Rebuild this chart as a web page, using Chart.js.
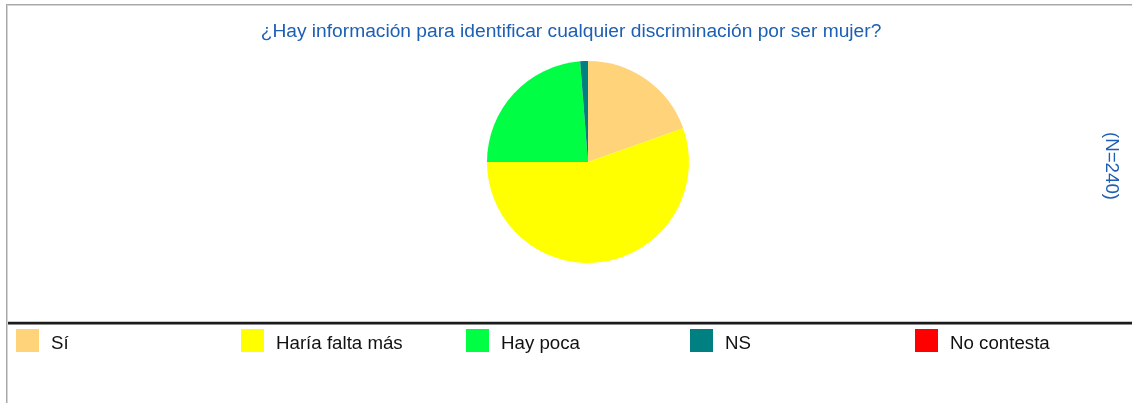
<!DOCTYPE html>
<html>
<head>
<meta charset="utf-8">
<script src="https://cdn.jsdelivr.net/npm/chart.js@4.4.1/dist/chart.umd.min.js"></script>
<style>
  html, body { margin: 0; padding: 0; background: #ffffff; }
  #wrap { width: 1132px; height: 403px; position: relative; }
</style>
</head>
<body>
<div id="wrap"><canvas id="c" width="1132" height="403"></canvas></div>
<script>
const chartTitle = '¿Hay información para identificar cualquier discriminación por ser mujer?';
const sampleLabel = '(N=240)';
const categories = ['Sí', 'Haría falta más', 'Hay poca', 'NS', 'No contesta'];
const counts = [47, 133, 57, 3, 0];
const sliceColors = ['#FFD37A', '#FFFF00', '#00FF44', '#008080', '#FF0000'];

const FONT = '"Liberation Sans", Arial, sans-serif';

const framePlugin = {
  id: 'frame',
  beforeDraw(chart) {
    const ctx = chart.ctx;
    ctx.save();
    ctx.fillStyle = '#ffffff';
    ctx.fillRect(0, 0, chart.width, chart.height);
    // outer frame (top and left)
    ctx.fillStyle = '#a8a8a8';
    ctx.fillRect(6, 4, chart.width - 6, 1);
    ctx.fillRect(6, 4, 1, chart.height - 4);
    ctx.fillStyle = '#d4d4d4';
    ctx.fillRect(7, 5, chart.width - 7, 1);
    ctx.fillRect(7, 5, 1, chart.height - 5);
    // separator above legend
    ctx.fillStyle = '#c4c4c4';
    ctx.fillRect(8, 321, chart.width - 8, 1);
    ctx.fillStyle = '#1a1a1a';
    ctx.fillRect(8, 322, chart.width - 8, 2);
    ctx.fillStyle = '#8a8a8a';
    ctx.fillRect(8, 324, chart.width - 8, 1);
    ctx.restore();
  },
  afterDraw(chart) {
    const ctx = chart.ctx;
    ctx.save();
    // title
    ctx.font = '19.2px ' + FONT;
    ctx.fillStyle = '#1c5fb4';
    ctx.textAlign = 'center';
    ctx.textBaseline = 'alphabetic';
    ctx.fillText(chartTitle, 571, 37);
    // N label rotated
    ctx.save();
    ctx.font = '18.7px ' + FONT;
    ctx.translate(1106, 166);
    ctx.rotate(Math.PI / 2);
    ctx.textAlign = 'center';
    ctx.fillText(sampleLabel, 0, 0);
    ctx.restore();
    // legend
    const labels = chart.data.labels;
    const bg = chart.data.datasets[0].backgroundColor;
    ctx.textAlign = 'left';
    for (let i = 0; i < labels.length; i++) {
      const x = 16 + i * 224.75;
      ctx.fillStyle = bg[i];
      ctx.fillRect(Math.round(x), 329, 23, 23);
      ctx.fillStyle = '#111111';
      ctx.font = '18.7px ' + FONT;
      ctx.fillText(labels[i], Math.round(x) + 35, 349);
    }
    ctx.restore();
  }
};

new Chart(document.getElementById('c'), {
  type: 'pie',
  data: {
    labels: categories,
    datasets: [{
      data: counts,
      backgroundColor: sliceColors,
      borderWidth: 0,
      hoverOffset: 0
    }]
  },
  options: {
    responsive: false,
    animation: false,
    events: [],
    layout: { padding: { top: 61, bottom: 140, left: 100, right: 56 } },
    plugins: {
      legend: { display: false },
      title: { display: false },
      tooltip: { enabled: false }
    }
  },
  plugins: [framePlugin]
});
</script>
</body>
</html>
